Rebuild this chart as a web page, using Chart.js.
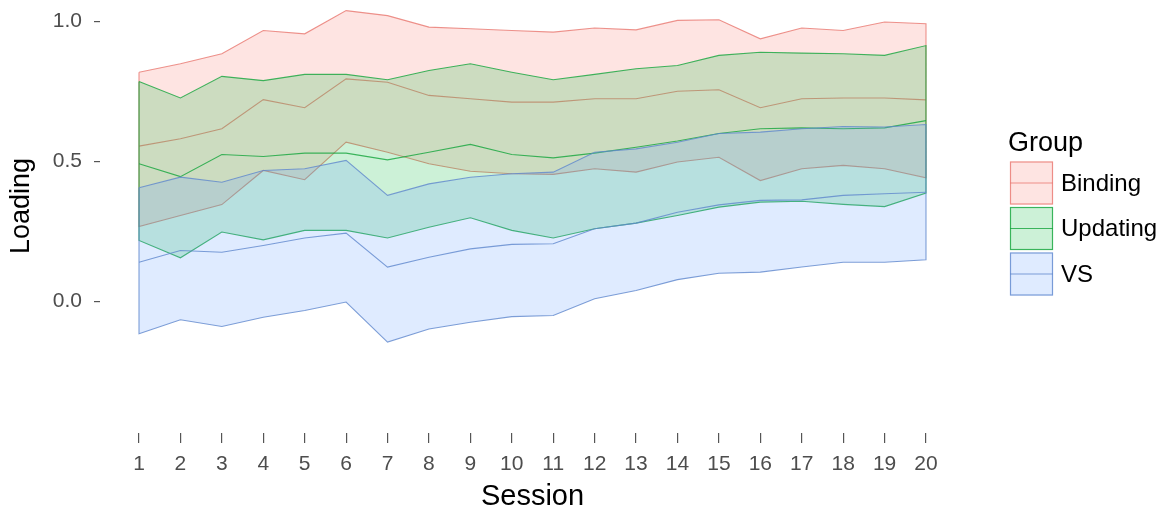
<!DOCTYPE html>
<html>
<head>
<meta charset="utf-8">
<script src="https://cdn.jsdelivr.net/npm/chart.js@4.4.1/dist/chart.umd.min.js"></script>
<style>
  html, body { margin: 0; padding: 0; background: #ffffff; }
  #wrap { width: 1169px; height: 516px; position: relative; }
</style>
</head>
<body>
<div id="wrap"><canvas id="chart"></canvas></div>
<script>
// Sessions on the x axis
const sessions = [1, 2, 3, 4, 5, 6, 7, 8, 9, 10, 11, 12, 13, 14, 15, 16, 17, 18, 19, 20];
const groupNames = ['Binding', 'Updating', 'VS'];
const yTicks = [0, 0.5, 1.0];

// Binding: upper bound, mean, lower bound
const bindingUpper = [0.819, 0.849, 0.885, 0.968, 0.956, 1.039, 1.021, 0.980, 0.974, 0.968, 0.962, 0.977, 0.970, 1.004, 1.006, 0.938, 0.977, 0.968, 0.998, 0.992];
const bindingMean  = [0.555, 0.581, 0.617, 0.721, 0.692, 0.795, 0.783, 0.736, 0.724, 0.712, 0.712, 0.724, 0.724, 0.751, 0.756, 0.692, 0.724, 0.727, 0.727, 0.720];
const bindingLower = [0.268, 0.307, 0.346, 0.468, 0.435, 0.569, 0.533, 0.492, 0.465, 0.456, 0.454, 0.474, 0.462, 0.498, 0.515, 0.432, 0.474, 0.486, 0.474, 0.442];

// Updating: upper bound, mean, lower bound
const updatingUpper = [0.786, 0.727, 0.804, 0.789, 0.811, 0.811, 0.792, 0.825, 0.849, 0.819, 0.792, 0.811, 0.831, 0.843, 0.879, 0.890, 0.887, 0.885, 0.879, 0.914];
const updatingMean  = [0.492, 0.446, 0.525, 0.518, 0.530, 0.530, 0.506, 0.533, 0.561, 0.525, 0.513, 0.530, 0.551, 0.573, 0.600, 0.617, 0.620, 0.617, 0.620, 0.646];
const updatingLower = [0.218, 0.156, 0.248, 0.220, 0.254, 0.254, 0.227, 0.265, 0.299, 0.254, 0.227, 0.260, 0.280, 0.307, 0.337, 0.355, 0.358, 0.347, 0.339, 0.387];

// VS: upper bound, mean, lower bound
const vsUpper = [0.406, 0.444, 0.426, 0.468, 0.474, 0.504, 0.379, 0.420, 0.444, 0.456, 0.462, 0.533, 0.545, 0.569, 0.600, 0.605, 0.617, 0.625, 0.623, 0.632];
const vsMean  = [0.140, 0.182, 0.176, 0.200, 0.227, 0.244, 0.123, 0.158, 0.188, 0.204, 0.206, 0.260, 0.280, 0.319, 0.345, 0.361, 0.363, 0.379, 0.385, 0.390];
const vsLower = [-0.115, -0.065, -0.089, -0.056, -0.032, -0.002, -0.145, -0.098, -0.074, -0.054, -0.050, 0.010, 0.039, 0.078, 0.101, 0.105, 0.123, 0.140, 0.140, 0.149];

const FONT = "'Liberation Sans', Arial, sans-serif";
// Outline colours and fill colours per group
const groupRGB = { Binding: '232,120,112', Updating: '20,165,60', VS: '95,135,205' };
const fillRGB = { Binding: '248,118,109', Updating: '0,186,56', VS: '97,156,255' };

// Closed outline: along the upper bound, back along the lower bound, then close.
function ribbonPoints(upper, lower) {
  const pts = sessions.map((s, i) => ({ x: s, y: upper[i] }));
  for (let i = sessions.length - 1; i >= 0; i--) pts.push({ x: sessions[i], y: lower[i] });
  pts.push({ x: sessions[0], y: upper[0] });
  return pts;
}
function linePoints(vals) {
  return sessions.map((s, i) => ({ x: s, y: vals[i] }));
}

const groupData = {
  Binding:  { upper: bindingUpper,  mean: bindingMean,  lower: bindingLower },
  Updating: { upper: updatingUpper, mean: updatingMean, lower: updatingLower },
  VS:       { upper: vsUpper,       mean: vsMean,       lower: vsLower }
};

// Draw order: each group's band then its mean line, Binding first (highest order drawn first).
const datasets = [];
groupNames.forEach((g, gi) => {
  const rgb = groupRGB[g];
  const d = groupData[g];
  datasets.push({
    label: g + ' band',
    data: ribbonPoints(d.upper, d.lower),
    fill: 'shape',
    backgroundColor: `rgba(${fillRGB[g]},0.2)`,
    borderColor: `rgba(${rgb},0.8)`,
    borderWidth: 1.1,
    pointRadius: 0,
    tension: 0,
    order: 10 - gi * 2
  });
  datasets.push({
    label: g,
    data: linePoints(d.mean),
    fill: false,
    borderColor: `rgba(${rgb},0.8)`,
    borderWidth: 1.1,
    pointRadius: 0,
    tension: 0,
    order: 9 - gi * 2
  });
});

// Axis title for y and the legend with a titled column of keys
const extras = {
  id: 'extras',
  afterDraw(chart) {
    const ctx = chart.ctx;
    ctx.save();
    ctx.fillStyle = '#000000';
    ctx.font = `27px ${FONT}`;
    ctx.textAlign = 'center';
    ctx.textBaseline = 'middle';
    ctx.translate(22, 206);
    ctx.rotate(-Math.PI / 2);
    ctx.fillText('Loading', 0, 0);
    ctx.restore();

    ctx.save();
    ctx.fillStyle = '#000000';
    ctx.textAlign = 'left';
    ctx.textBaseline = 'alphabetic';
    ctx.font = `27px ${FONT}`;
    ctx.fillText('Group', 1008, 151);
    const left = 1010, size = 43, top0 = 161.5, step = 45.5;
    groupNames.forEach((g, i) => {
      const rgb = groupRGB[g];
      const top = top0 + i * step;
      ctx.fillStyle = `rgba(${fillRGB[g]},0.2)`;
      ctx.fillRect(left, top, size, size);
      ctx.strokeStyle = `rgba(${rgb},0.8)`;
      ctx.lineWidth = 1.2;
      ctx.strokeRect(left + 0.5, top + 0.5, size - 1, size - 1);
      ctx.beginPath();
      ctx.moveTo(left, top + size / 2);
      ctx.lineTo(left + size, top + size / 2);
      ctx.stroke();
      ctx.fillStyle = '#000000';
      ctx.font = `24px ${FONT}`;
      ctx.textBaseline = 'middle';
      ctx.fillText(g, 1061, top + size / 2 + 1);
      ctx.textBaseline = 'alphabetic';
    });
    ctx.restore();
  }
};

const xMin = 0.0584, xMax = 20.9416;
const yMin = -0.47, yMax = 1.06;

new Chart(document.getElementById('chart'), {
  type: 'line',
  data: { datasets },
  plugins: [extras],
  options: {
    responsive: true,
    maintainAspectRatio: false,
    animation: false,
    layout: { padding: { left: 0, right: 204, top: 4.7, bottom: 0 } },
    plugins: {
      legend: { display: false },
      tooltip: { enabled: false },
      filler: { drawTime: 'beforeDatasetDraw' }
    },
    scales: {
      x: {
        type: 'linear',
        min: xMin,
        max: xMax,
        afterBuildTicks: s => { s.ticks = sessions.map(v => ({ value: v })); },
        afterFit: s => { s.height = 82.9; s.paddingLeft = 0; s.paddingRight = 0; },
        border: { display: false },
        grid: { drawOnChartArea: false, drawTicks: true, tickLength: 10, color: '#555555', lineWidth: 1.2 },
        ticks: {
          color: '#4d4d4d',
          font: { family: FONT, size: 21 },
          padding: 9,
          maxRotation: 0,
          autoSkip: false,
          callback: v => String(v)
        },
        title: {
          display: true,
          text: 'Session',
          color: '#000000',
          font: { family: FONT, size: 29 },
          padding: { top: 0, bottom: 2 }
        }
      },
      y: {
        type: 'linear',
        min: yMin,
        max: yMax,
        afterBuildTicks: s => { s.ticks = yTicks.map(v => ({ value: v })); },
        afterFit: s => { s.width = 100; s.paddingTop = 0; s.paddingBottom = 0; },
        border: { display: false },
        grid: { drawOnChartArea: false, drawTicks: true, tickLength: 6, color: '#555555', lineWidth: 1.2 },
        ticks: {
          color: '#4d4d4d',
          font: { family: FONT, size: 21 },
          padding: 12,
          callback: v => Number(v).toFixed(1)
        },
        title: { display: false }
      }
    }
  }
});
</script>
</body>
</html>
